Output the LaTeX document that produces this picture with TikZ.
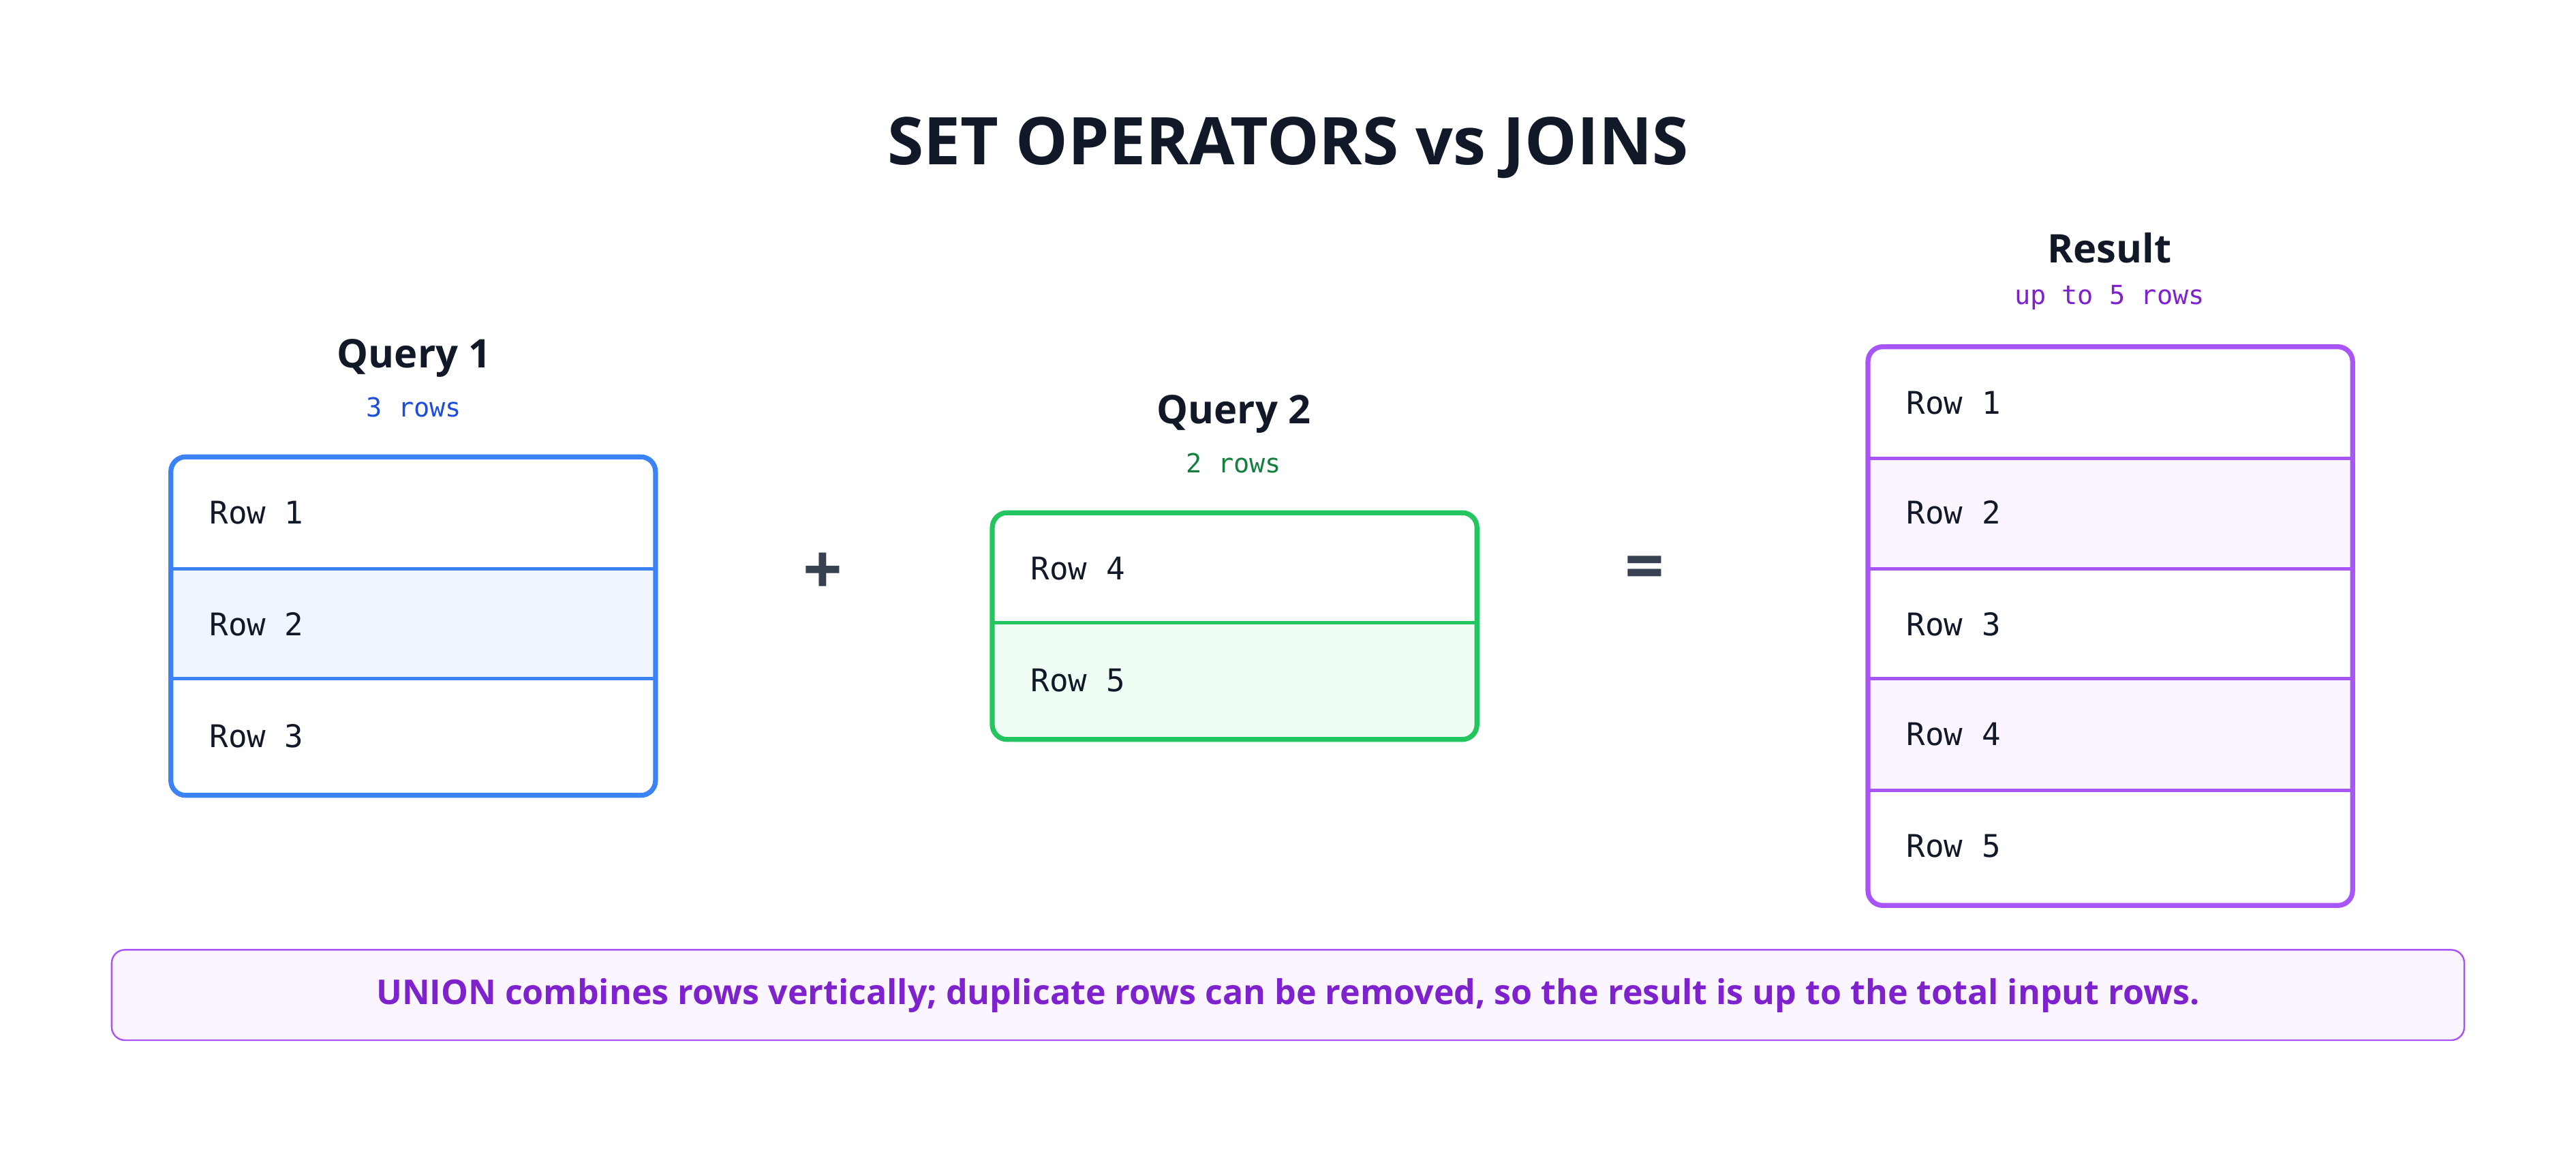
\documentclass[tikz,border=0pt]{standalone}
\usepackage{fontspec}
\setmainfont{Open Sans}
\newfontfamily\monof{DejaVu Sans Mono}
\definecolor{qblue}{HTML}{3B82F6}
\definecolor{qbluet}{HTML}{1D4ED8}
\definecolor{qbluef}{HTML}{EFF6FF}
\definecolor{qgreen}{HTML}{22C55E}
\definecolor{qgreent}{HTML}{15803D}
\definecolor{qgreenf}{HTML}{F0FDF4}
\definecolor{qpurp}{HTML}{A855F7}
\definecolor{qpurpt}{HTML}{7E22CE}
\definecolor{qpurpf}{HTML}{FAF5FF}
\definecolor{ink}{HTML}{111827}
\definecolor{opc}{HTML}{374151}
\tikzset{
  rowtxt/.style={anchor=west,font=\monof\fontsize{19}{21}\selectfont,text=ink},
  head/.style={font=\bfseries\fontsize{24}{28}\selectfont,text=ink},
  sub/.style={font=\monof\fontsize{16}{18}\selectfont},
  op/.style={font=\bfseries\fontsize{42}{42}\selectfont,text=opc},
}
\begin{document}
\begin{tikzpicture}[x=1pt,y=-1pt]
\useasboundingbox (0,0) rectangle (1568,701);
\fill[white] (0,0) rectangle (1568,701);
\node[font=\bfseries\fontsize{40}{46}\selectfont,text=ink] (title) at (784,90) {SET OPERATORS vs JOINS};
% Query 1
\node[head] (q1h) at (252,218) {Query 1};
\node[sub,text=qbluet] (q1s) at (252,248) {3 rows};
\fill[qbluef] (104,346) rectangle (399,413);
\draw[qblue,line width=2pt] (104,346) -- (399,346) (104,413) -- (399,413);
\draw[qblue,line width=3pt,rounded corners=9pt] (104,278) rectangle (399,484);
\node[rowtxt] (q1r1) at (124,312) {Row 1};
\node[rowtxt] (q1r2) at (124,380) {Row 2};
\node[rowtxt] (q1r3) at (124,448) {Row 3};
\node[op] (plus) at (501,349) {+};
% Query 2
\node[head] (q2h) at (751,252) {Query 2};
\node[sub,text=qgreent] (q2s) at (751,282) {2 rows};
\begin{scope}
\clip[rounded corners=9pt] (604,312) rectangle (899,450);
\fill[qgreenf] (604,379) rectangle (899,450);
\end{scope}
\draw[qgreen,line width=2pt] (604,379) -- (899,379);
\draw[qgreen,line width=3pt,rounded corners=9pt] (604,312) rectangle (899,450);
\node[rowtxt] (q2r4) at (624,346) {Row 4};
\node[rowtxt] (q2r5) at (624,414) {Row 5};
\node[op] (eq) at (1001,349) {=};
% Result
\node[head] (rh) at (1284,151) {Result};
\node[sub,text=qpurpt] (rs) at (1284,181) {up to 5 rows};
\fill[qpurpf] (1137,279) rectangle (1432,346) (1137,413) rectangle (1432,481);
\draw[qpurp,line width=2pt] (1137,279) -- (1432,279) (1137,346) -- (1432,346) (1137,413) -- (1432,413) (1137,481) -- (1432,481);
\draw[qpurp,line width=3pt,rounded corners=9pt] (1137,211) rectangle (1432,551);
\node[rowtxt] (rr1) at (1157,245) {Row 1};
\node[rowtxt] (rr2) at (1157,312) {Row 2};
\node[rowtxt] (rr3) at (1157,380) {Row 3};
\node[rowtxt] (rr4) at (1157,447) {Row 4};
\node[rowtxt] (rr5) at (1157,515) {Row 5};
% bottom note
\draw[qpurp,fill=qpurpf,line width=1pt,rounded corners=8pt] (68,578) rectangle (1500,633);
\node[font=\bfseries\fontsize{20.8}{24}\selectfont,text=qpurpt] (note) at (784,606) {UNION combines rows vertically; duplicate rows can be removed, so the result is up to the total input rows.};
\end{tikzpicture}
\end{document}
